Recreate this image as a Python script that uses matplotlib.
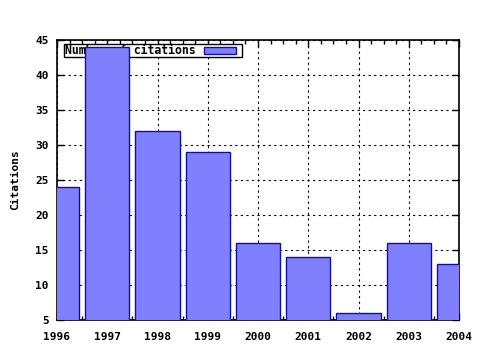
import matplotlib
matplotlib.use("Agg")
from matplotlib import pyplot as plt
from matplotlib.patches import Rectangle
from matplotlib.ticker import MultipleLocator

years = [1996, 1997, 1998, 1999, 2000, 2001, 2002, 2003, 2004]
citations = [24, 44, 32, 29, 16, 14, 6, 16, 13]
label = "Number of citations"

plt.rcParams['font.family'] = 'DejaVu Sans Mono'
plt.rcParams['font.weight'] = 'bold'
plt.rcParams['font.size'] = 8

fig = plt.figure(figsize=(4.8, 3.5), dpi=100)
ax = fig.add_axes([57/480, 30/350, 402/480, 280/350])

ax.bar(years, citations, width=0.88, bottom=0, color='#8080ff',
       edgecolor='#1010a0', linewidth=1.0, zorder=3)

ax.set_xlim(1996, 2004)
ax.set_ylim(5, 45)
ax.xaxis.set_major_locator(MultipleLocator(1))
ax.xaxis.set_minor_locator(MultipleLocator(0.25))
ax.yaxis.set_major_locator(MultipleLocator(5))
ax.tick_params(direction='in', which='both', top=True, right=True, width=1)
ax.tick_params(which='major', length=5)
ax.tick_params(which='minor', length=3)
ax.tick_params(axis='x', which='major', pad=9)
ax.tick_params(axis='y', which='major', pad=6)
ax.grid(True, which='major', color='black', linestyle=(0, (2, 3)), linewidth=0.8, zorder=1)
for s in ax.spines.values():
    s.set_linewidth(1.2)
ax.set_ylabel("Citations", fontsize=8, fontweight='bold', labelpad=11)

# legend box, drawn under the bars like gnuplot
ax.add_patch(Rectangle((7/402, 1 - 17/280), 178/402, 13/280, transform=ax.transAxes,
                       facecolor='white', edgecolor='black', linewidth=1, zorder=2))
ax.text(8/402, 1 - 10.5/280, label, transform=ax.transAxes, va='center', ha='left',
        fontsize=8.3, fontweight='bold', zorder=2)
ax.add_patch(Rectangle((147/402, 1 - 14/280), 32/402, 7/280, transform=ax.transAxes,
                       facecolor='#8080ff', edgecolor='#1010a0', linewidth=1, zorder=2))

plt.savefig("out.png", dpi=100)
plt.close()
